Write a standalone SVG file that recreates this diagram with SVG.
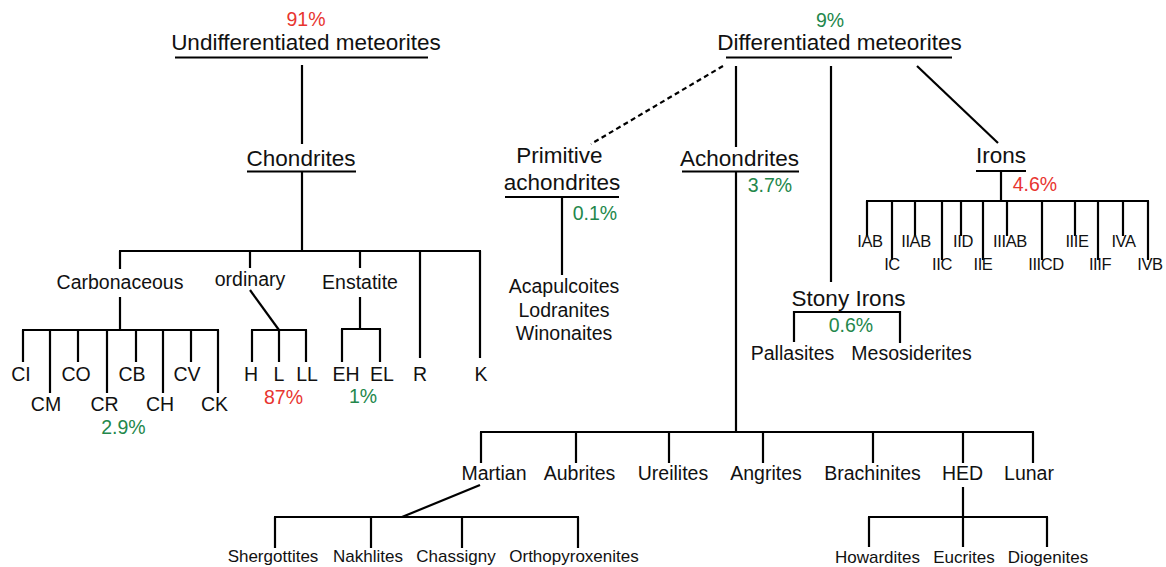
<svg xmlns="http://www.w3.org/2000/svg" width="1166" height="567" viewBox="0 0 1166 567">
<style>
text{font-family:"Liberation Sans",Arial,Helvetica,sans-serif;text-anchor:middle;fill:#111}
.big{font-size:22.5px}
.mid{font-size:19.5px}
.sm{font-size:17px}
.ir{font-size:16.5px;letter-spacing:-0.4px}
.red{fill:#e8352f;font-size:19.5px}
.grn{fill:#23874b;font-size:19.5px}
line,path,polyline{stroke:#000;stroke-width:2.2;fill:none}
.dash{stroke-dasharray:5,3.5}
</style>
<rect width="1166" height="567" fill="#fff"/>
<g id="connectors">
<line x1="302" y1="65" x2="302" y2="144"/>
<line x1="302" y1="172" x2="302" y2="251"/>
<line x1="119" y1="251" x2="481" y2="251"/>
<line x1="120" y1="251" x2="120" y2="269"/>
<line x1="250" y1="251" x2="250" y2="268"/>
<line x1="360" y1="251" x2="360" y2="268"/>
<line x1="420" y1="251" x2="420" y2="358"/>
<line x1="480" y1="251" x2="480" y2="358"/>
<line x1="120" y1="297" x2="120" y2="330"/>
<line x1="22" y1="330" x2="219" y2="330"/>
<line x1="23" y1="330" x2="23" y2="362"/>
<line x1="50" y1="330" x2="50" y2="393"/>
<line x1="78" y1="330" x2="78" y2="362"/>
<line x1="107" y1="330" x2="107" y2="393"/>
<line x1="136" y1="330" x2="136" y2="362"/>
<line x1="163" y1="330" x2="163" y2="393"/>
<line x1="191" y1="330" x2="191" y2="362"/>
<line x1="218" y1="330" x2="218" y2="393"/>
<line x1="250" y1="290" x2="279" y2="330"/>
<line x1="251" y1="330" x2="307" y2="330"/>
<line x1="252" y1="330" x2="252" y2="362"/>
<line x1="279" y1="330" x2="279" y2="362"/>
<line x1="306" y1="330" x2="306" y2="362"/>
<line x1="360" y1="297" x2="360" y2="329"/>
<line x1="341" y1="329" x2="381" y2="329"/>
<line x1="342" y1="329" x2="342" y2="362"/>
<line x1="380" y1="329" x2="380" y2="362"/>
<line class="dash" x1="723" y1="66" x2="591" y2="144"/>
<line x1="736" y1="66" x2="736" y2="147"/>
<line x1="831" y1="66" x2="831" y2="282"/>
<line x1="917" y1="66" x2="998" y2="143"/>
<line x1="562" y1="197" x2="562" y2="275"/>
<line x1="736" y1="172" x2="736" y2="432"/>
<line x1="480" y1="432" x2="1034" y2="432"/>
<line x1="481" y1="432" x2="481" y2="463"/>
<line x1="576" y1="432" x2="576" y2="463"/>
<line x1="669" y1="432" x2="669" y2="463"/>
<line x1="763" y1="432" x2="763" y2="463"/>
<line x1="873" y1="432" x2="873" y2="463"/>
<line x1="963" y1="432" x2="963" y2="463"/>
<line x1="1033" y1="432" x2="1033" y2="463"/>
<line x1="480" y1="485" x2="402" y2="517"/>
<line x1="274" y1="517" x2="579" y2="517"/>
<line x1="275" y1="517" x2="275" y2="548"/>
<line x1="371" y1="517" x2="371" y2="548"/>
<line x1="462" y1="517" x2="462" y2="548"/>
<line x1="578" y1="517" x2="578" y2="548"/>
<line x1="963" y1="487" x2="963" y2="517"/>
<line x1="868" y1="517" x2="1048" y2="517"/>
<line x1="869" y1="517" x2="869" y2="547"/>
<line x1="963" y1="517" x2="963" y2="547"/>
<line x1="1047" y1="517" x2="1047" y2="547"/>
<line x1="1001" y1="171" x2="1001" y2="201"/>
<line x1="866" y1="201" x2="1149" y2="201"/>
<line x1="867" y1="201" x2="867" y2="236"/>
<line x1="892" y1="201" x2="892" y2="260"/>
<line x1="915" y1="201" x2="915" y2="236"/>
<line x1="942" y1="201" x2="942" y2="260"/>
<line x1="961" y1="201" x2="961" y2="236"/>
<line x1="983" y1="201" x2="983" y2="260"/>
<line x1="1007" y1="201" x2="1007" y2="236"/>
<line x1="1042" y1="201" x2="1042" y2="260"/>
<line x1="1075" y1="201" x2="1075" y2="236"/>
<line x1="1098" y1="201" x2="1098" y2="260"/>
<line x1="1123" y1="201" x2="1123" y2="236"/>
<line x1="1148" y1="201" x2="1148" y2="260"/>
<path d="M794,342 V312 H900 V343"/>
</g>
<g id="undifferentiated">
<text class="red" x="306" y="26">91%</text>
<text class="big" x="306" y="50">Undifferentiated meteorites</text>
<line x1="175" y1="57.5" x2="428" y2="57.5"/>
</g>
<g id="chondrites">
<text class="big" x="301" y="166">Chondrites</text>
<line x1="247" y1="171.5" x2="356" y2="171.5"/>
</g>
<g id="carbonaceous"><text class="mid" x="120" y="289">Carbonaceous</text></g>
<g id="ordinary"><text class="mid" x="250" y="286">ordinary</text></g>
<g id="enstatite"><text class="mid" x="360" y="289">Enstatite</text></g>
<g id="CI"><text class="mid" x="21" y="381">CI</text></g>
<g id="CM"><text class="mid" x="46" y="411">CM</text></g>
<g id="CO"><text class="mid" x="76" y="381">CO</text></g>
<g id="CR"><text class="mid" x="104.5" y="411">CR</text></g>
<g id="CB"><text class="mid" x="132" y="381">CB</text></g>
<g id="CH"><text class="mid" x="160" y="411">CH</text></g>
<g id="CV"><text class="mid" x="187" y="381">CV</text></g>
<g id="CK"><text class="mid" x="214.5" y="411">CK</text></g>
<g id="pct-carb"><text class="grn" x="123.5" y="434">2.9%</text></g>
<g id="H"><text class="mid" x="251" y="381">H</text></g>
<g id="L"><text class="mid" x="279" y="381">L</text></g>
<g id="LL"><text class="mid" x="307" y="381">LL</text></g>
<g id="pct-ord"><text class="red" x="283.5" y="404">87%</text></g>
<g id="EH"><text class="mid" x="346" y="381">EH</text></g>
<g id="EL"><text class="mid" x="382" y="381">EL</text></g>
<g id="pct-ens"><text class="grn" x="363" y="403">1%</text></g>
<g id="R"><text class="mid" x="420" y="381">R</text></g>
<g id="K"><text class="mid" x="481" y="381">K</text></g>
<g id="differentiated">
<text class="grn" x="830" y="27">9%</text>
<text class="big" x="839.5" y="50">Differentiated meteorites</text>
<line x1="726" y1="57.5" x2="952" y2="57.5"/>
</g>
<g id="primitive">
<text class="big" x="559.5" y="163">Primitive</text>
<text class="big" x="562" y="190">achondrites</text>
<line x1="505" y1="197" x2="619" y2="197"/>
<text class="grn" x="595" y="220">0.1%</text>
</g>
<g id="primitive-types">
<text class="mid" x="564" y="293">Acapulcoites</text>
<text class="mid" x="564" y="317">Lodranites</text>
<text class="mid" x="564" y="340">Winonaites</text>
</g>
<g id="achondrites">
<text class="big" x="739.5" y="166">Achondrites</text>
<line x1="682" y1="171.5" x2="799" y2="171.5"/>
<text class="grn" x="770" y="192">3.7%</text>
</g>
<g id="irons">
<text class="big" x="1001" y="163">Irons</text>
<line x1="976" y1="171" x2="1026" y2="171"/>
<text class="red" x="1035" y="191">4.6%</text>
</g>
<g id="IAB"><text class="ir" x="870" y="247">IAB</text></g>
<g id="IC"><text class="ir" x="892" y="270">IC</text></g>
<g id="IIAB"><text class="ir" x="916" y="247">IIAB</text></g>
<g id="IIC"><text class="ir" x="942" y="270">IIC</text></g>
<g id="IID"><text class="ir" x="963" y="247">IID</text></g>
<g id="IIE"><text class="ir" x="983" y="270">IIE</text></g>
<g id="IIIAB"><text class="ir" x="1010" y="247">IIIAB</text></g>
<g id="IIICD"><text class="ir" x="1046" y="270">IIICD</text></g>
<g id="IIIE"><text class="ir" x="1077" y="247">IIIE</text></g>
<g id="IIIF"><text class="ir" x="1100" y="270">IIIF</text></g>
<g id="IVA"><text class="ir" x="1123.5" y="247">IVA</text></g>
<g id="IVB"><text class="ir" x="1150" y="270">IVB</text></g>
<g id="stony-irons">
<text class="big" x="848.5" y="306">Stony Irons</text>
<text class="grn" x="851" y="332">0.6%</text>
</g>
<g id="pallasites"><text class="mid" x="792.5" y="360">Pallasites</text></g>
<g id="mesosiderites"><text class="mid" x="911.5" y="360">Mesosiderites</text></g>
<g id="martian"><text class="mid" x="494" y="480">Martian</text></g>
<g id="aubrites"><text class="mid" x="579.5" y="480">Aubrites</text></g>
<g id="ureilites"><text class="mid" x="673" y="480">Ureilites</text></g>
<g id="angrites"><text class="mid" x="766" y="480">Angrites</text></g>
<g id="brachinites"><text class="mid" x="872.5" y="480">Brachinites</text></g>
<g id="HED"><text class="mid" x="962.5" y="480">HED</text></g>
<g id="lunar"><text class="mid" x="1029" y="480">Lunar</text></g>
<g id="shergottites"><text class="sm" x="273" y="562">Shergottites</text></g>
<g id="nakhlites"><text class="sm" x="368" y="562">Nakhlites</text></g>
<g id="chassigny"><text class="sm" x="456" y="562">Chassigny</text></g>
<g id="orthopyroxenites"><text class="sm" x="574" y="562">Orthopyroxenites</text></g>
<g id="howardites"><text class="sm" x="877.5" y="563">Howardites</text></g>
<g id="eucrites"><text class="sm" x="964" y="563">Eucrites</text></g>
<g id="diogenites"><text class="sm" x="1048" y="563">Diogenites</text></g>
</svg>
